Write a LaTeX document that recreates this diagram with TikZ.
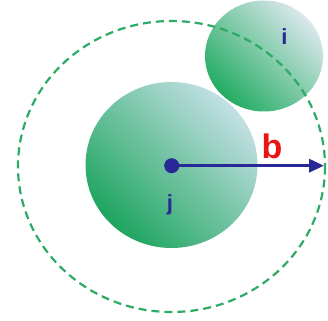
\documentclass[tikz,border=0pt]{standalone}
\usepackage{fontspec}
\setmainfont{Liberation Sans}
\usetikzlibrary{arrows.meta}
\definecolor{dgreen}{RGB}{30,165,95}
\definecolor{mteal}{RGB}{125,182,170}
\definecolor{lgray}{RGB}{195,224,228}
\definecolor{dgreenb}{RGB}{35,172,98}
\definecolor{mtealb}{RGB}{140,195,180}
\definecolor{lgrayb}{RGB}{218,232,236}
\definecolor{dashgreen}{RGB}{45,170,100}
\definecolor{arrowblue}{RGB}{40,40,150}
\definecolor{labred}{RGB}{235,20,20}
\tikzset{
  bigball/.style={top color=lgray, middle color=mteal, bottom color=dgreen, shading angle=-45},
  smallball/.style={top color=lgrayb, middle color=mtealb, bottom color=dgreenb, shading angle=-45},
  lab/.style={text=arrowblue, font=\bfseries\fontsize{22}{22}\selectfont, inner sep=0pt},
}
\begin{document}
\begin{tikzpicture}[x=1pt,y=-1pt]
\useasboundingbox[fill=white] (0,0) rectangle (328,320);
\shade[bigball] (171.5,165) ellipse [x radius=86, y radius=83];
\shade[smallball] (264,56) ellipse [x radius=59, y radius=55.5];
\draw[dashgreen, line width=2.2pt, dash pattern=on 8pt off 5pt] (171.5,166.5) ellipse [x radius=153.5, y radius=145.5];
\coordinate (c) at (171.7,165.7);
\coordinate (tip) at (324,165.7);
\draw[arrowblue, line width=3.3pt, -{Triangle[length=15pt,width=13pt]}] (c) -- (tip);
\fill[arrowblue] (c) circle [radius=7.5];
\node[lab] (j) at (170,205) {j};
\node[lab] (i) at (284.5,36.5) {i};
\node[text=labred, font=\bfseries\fontsize{34}{34}\selectfont, inner sep=0pt] (b) at (272,146) {b};
\end{tikzpicture}
\end{document}
